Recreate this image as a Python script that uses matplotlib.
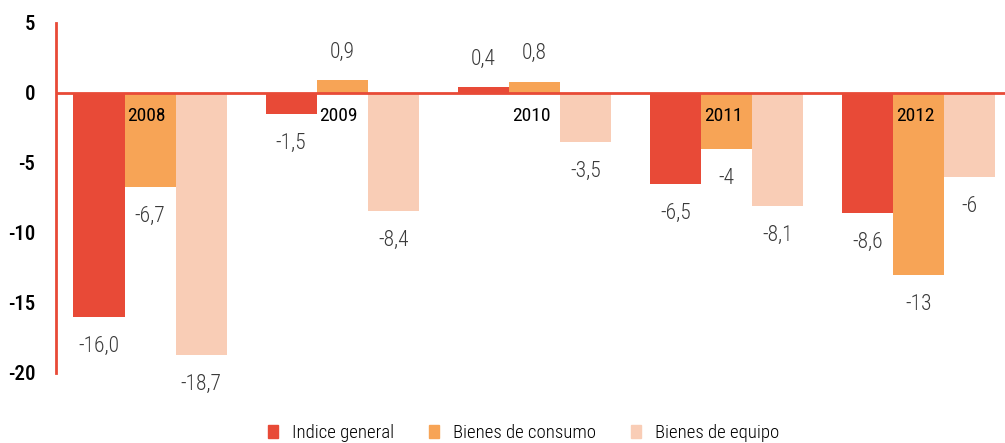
import numpy as np
import matplotlib.pyplot as plt
from matplotlib.patches import Patch

# ── Datos ────────────────────────────────────────────────────────────────────
years    = ["2008", "2009", "2010", "2011", "2012"]
general  = [-16.0, -1.5, 0.4, -6.5, -8.6]
consumo  = [-6.7, 0.9, 0.8, -4, -13]
equipo   = [-18.7, -8.4, -3.5, -8.1, -6]
lab_gen  = ["-16,0", "-1,5", "0,4", "-6,5", "-8,6"]
lab_con  = ["-6,7", "0,9", "0,8", "-4", "-13"]
lab_equ  = ["-18,7", "-8,4", "-3,5", "-8,1", "-6"]
series_names = ["Indice general", "Bienes de consumo", "Bienes de equipo"]
yticks   = [5, 0, -5, -10, -15, -20]

# ── Estilo ───────────────────────────────────────────────────────────────────
RED, ORANGE, PINK = "#E84A37", "#F7A456", "#F9CDB6"
FONT = ["Roboto Condensed", "IBM Plex Sans Condensed", "DejaVu Sans"]
plt.rcParams['font.family'] = FONT

fig = plt.figure(figsize=(10.05, 4.43), dpi=100)
ax = fig.add_axes([56 / 1005, 70 / 443, 1 - 56 / 1005, (373 - 23) / 443])

x = np.arange(len(years))
w = 0.266
series = [(general, lab_gen, RED, -w), (consumo, lab_con, ORANGE, 0), (equipo, lab_equ, PINK, w)]

for vals, labs, col, off in series:
    ax.bar(x + off, vals, width=w, color=col, linewidth=0)
    for xi, v, lab in zip(x, vals, labs):
        dy = 2.0 if v >= 0 else -2.1
        ax.text(xi + off, v + dy, lab, ha="center", va="center",
                fontsize=15.5, color="#3a3a3a", fontweight="light")

# años dentro de la barra naranja
for xi, yr in zip(x, years):
    ax.text(xi - w / 2 + 0.015, -1.65, yr, ha="left", va="center",
            fontsize=14, color="black")

ax.axhline(0, color=RED, linewidth=2, zorder=3)
ax.set_xlim(-0.49, 4.45)
ax.set_ylim(-20, 5)
ax.set_yticks(yticks)
ax.set_yticklabels([str(t) for t in yticks], fontsize=15, fontweight="medium")
ax.tick_params(axis="y", length=0, pad=15)
ax.set_xticks([])
for s in ["top", "right", "bottom"]:
    ax.spines[s].set_visible(False)
ax.spines["left"].set_color(RED)
ax.spines["left"].set_linewidth(2)

handles = [Patch(color=c) for c in (RED, ORANGE, PINK)]
fig.legend(handles, series_names, loc="lower center", ncol=3, frameon=False,
           bbox_to_anchor=(0.521, -0.035), handlelength=0.5,
           handleheight=0.7, columnspacing=1.9, handletextpad=0.75,
           prop={"family": FONT, "size": 13.5, "weight": "light"})

fig.savefig("out.png", dpi=100)
